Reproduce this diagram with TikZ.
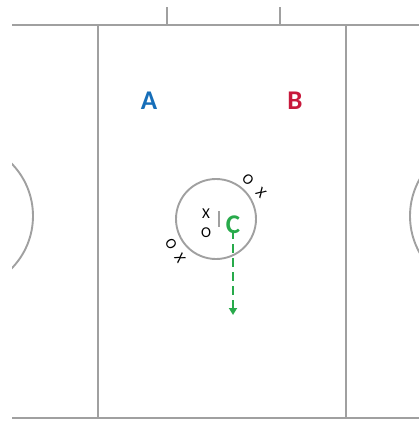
\documentclass[tikz,border=0pt]{standalone}
\usepackage{fontspec}
\setmainfont{Carlito}
\usetikzlibrary{arrows.meta}
\definecolor{fieldgray}{RGB}{160,160,160}
\definecolor{teamA}{RGB}{22,110,185}
\definecolor{teamB}{RGB}{200,25,60}
\definecolor{teamC}{RGB}{40,170,75}
\tikzset{
  fieldline/.style={draw=fieldgray, line width=1.9pt},
  team/.style={font=\bfseries\fontsize{27}{29}\selectfont, inner sep=0pt},
  player/.style={font=\fontsize{15}{17}\selectfont, inner sep=0pt, text=black},
  runpath/.style={draw=teamC, line width=2.6pt, dash pattern=on 9pt off 5pt, -{Triangle[length=7pt,width=8pt]}}
}
\begin{document}
\begin{tikzpicture}[x=1pt,y=-1pt]
\useasboundingbox (0,0) rectangle (419,421);
% field
\begin{scope}
\clip (12,0) rectangle (419,421);
\draw[fieldline] (12,25) -- (419,25);
\draw[fieldline] (12,418) -- (419,418);
\draw[fieldline] (167,7) -- (167,25);
\draw[fieldline] (280,7) -- (280,25);
\draw[fieldline] (98,25) -- (98,418);
\draw[fieldline] (346,25) -- (346,418);
\draw[fieldline] (-42,216) circle[radius=75];
\draw[fieldline] (485,216) circle[radius=75];
\draw[fieldline] (216,219) circle[radius=40];
\end{scope}
\draw[fieldline, line width=1.3pt] (219,211) -- (219,227);
% labels
\node[team, text=teamA] (a) at (149,101) {A};
\node[team, text=teamB] (b) at (295,101) {B};
\node[team, text=teamC] (c) at (233,225) {C};
\node[player] (x1) at (206,214) {X};
\node[player] (o1) at (206,233) {O};
\node[player, rotate=-45] (o2) at (248,180) {O};
\node[player, rotate=-45] (x2) at (261,193) {X};
\node[player, rotate=-57] (o3) at (171,244) {O};
\node[player, rotate=-57] (x3) at (180,258) {X};
\coordinate (cend) at (233,315);
\draw[runpath] ([yshift=4pt]c.south) -- (cend);
\end{tikzpicture}
\end{document}
